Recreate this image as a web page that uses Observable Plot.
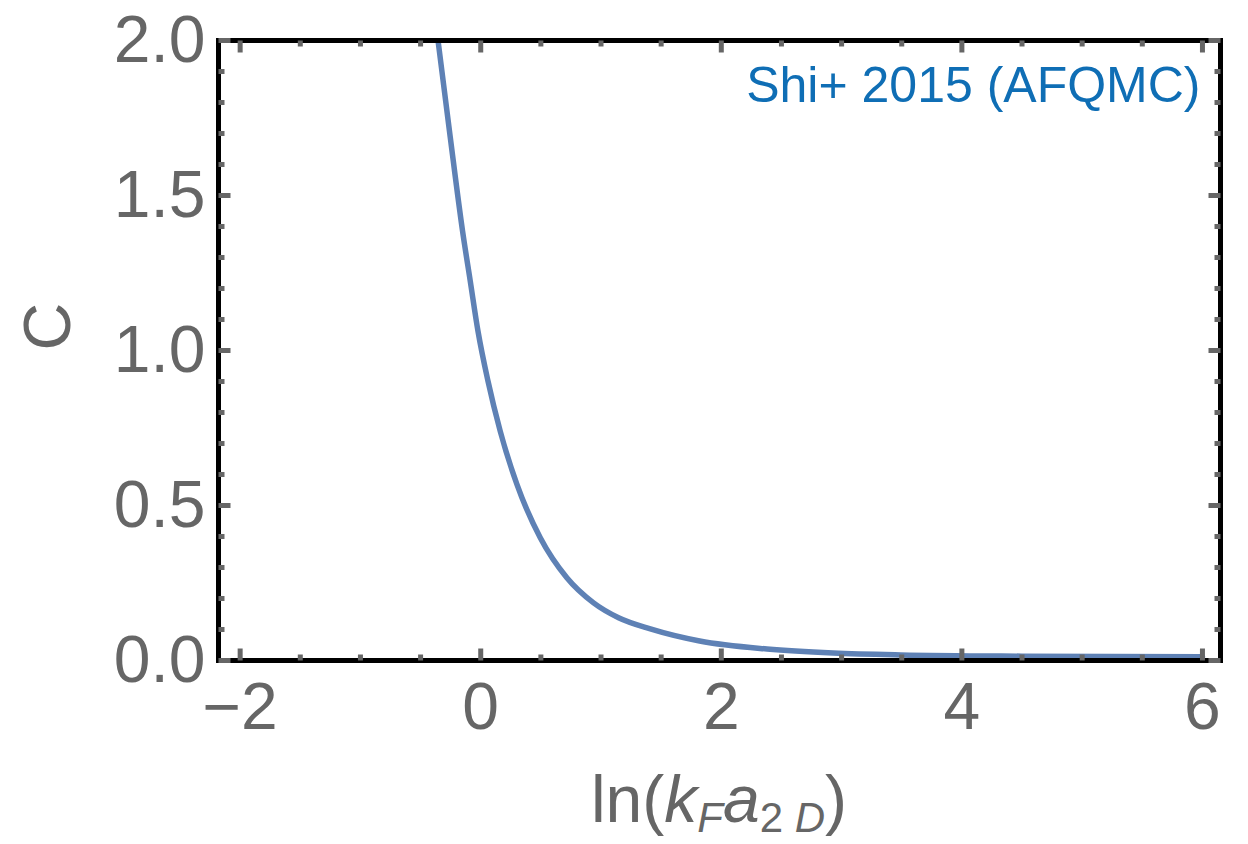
<!DOCTYPE html>
<html>
<head>
<meta charset="utf-8">
<script src="https://cdn.jsdelivr.net/npm/d3@7"></script>
<script src="https://cdn.jsdelivr.net/npm/@observablehq/plot@0.6"></script>
<style>
  html, body { margin: 0; padding: 0; background: #fff; }
</style>
</head>
<body>
<div id="chart"></div>
<script>
// ---- data ----
const lnKfa    = [-0.355, -0.254, -0.151, -0.087, -0.023, 0.060, 0.162, 0.301, 0.495, 0.716, 0.938, 1.146, 1.41, 1.82, 2.38, 2.93, 3.49, 4.5, 6.0];
const contactC = [ 2.00,   1.69,   1.385,  1.224,  1.063, 0.902, 0.740, 0.568, 0.396, 0.267, 0.186, 0.138, 0.102, 0.063, 0.037, 0.024, 0.018, 0.014, 0.012];

const xMajorTicks = [-2, 0, 2, 4, 6];
const xMinorTicks = [-1.5, -1, -0.5, 0.5, 1, 1.5, 2.5, 3, 3.5, 4.5, 5, 5.5];
const yMajorTicks = [0, 0.5, 1, 1.5, 2];
const yMinorTicks = [0.1, 0.2, 0.3, 0.4, 0.6, 0.7, 0.8, 0.9, 1.1, 1.2, 1.3, 1.4, 1.6, 1.7, 1.8, 1.9];

const annotation = "Shi+ 2015 (AFQMC)";
const yLabel = "C";

const xDomain = [-2.18, 6.15];
const yDomain = [0, 2];

const curve = lnKfa.map((x, i) => ({x, c: contactC[i]}));

// tick shape for vectors: straight stroke
const tickShape = { draw(ctx, l) { ctx.moveTo(0, 0); ctx.lineTo(0, -l); } };
const tickGray = "#666";
function tickMarks(values, axis, len) {
  const common = {length: len, shape: tickShape, anchor: "start", stroke: tickGray, strokeWidth: 5, strokeLinecap: "butt"};
  if (axis === "x") {
    return [
      Plot.vector(values, {...common, x: d => d, y: () => yDomain[0], rotate: 0}),
      Plot.vector(values, {...common, x: d => d, y: () => yDomain[1], rotate: 180})
    ];
  } else {
    return [
      Plot.vector(values, {...common, y: d => d, x: () => xDomain[0], rotate: 90}),
      Plot.vector(values, {...common, y: d => d, x: () => xDomain[1], rotate: -90})
    ];
  }
}

const mL = 218, mR = 28, mT = 40, mB = 184, W = 1248, H = 844;

const plot = Plot.plot({
  width: W,
  height: H,
  marginLeft: mL,
  marginRight: mR,
  marginTop: mT,
  marginBottom: mB,
  style: {fontFamily: "'Liberation Sans', Arial, Helvetica, sans-serif", fontSize: "66px", color: "#666", background: "white"},
  x: {domain: xDomain},
  y: {domain: yDomain},
  marks: [
    Plot.line(curve, {x: "x", y: "c", stroke: "#5E81B5", strokeWidth: 5.5, curve: "monotone-x", clip: true}),
    Plot.frame({stroke: "black", strokeWidth: 5}),
    ...tickMarks(xMinorTicks, "x", 6),
    ...tickMarks(xMajorTicks, "x", 12),
    ...tickMarks(yMinorTicks, "y", 6),
    ...tickMarks(yMajorTicks, "y", 12),
    Plot.axisX({ticks: xMajorTicks, tickSize: 0, tickPadding: 22, label: null}),
    Plot.axisY({ticks: yMajorTicks, tickSize: 0, tickPadding: 13, label: null, tickFormat: d3.format(".1f")}),
    Plot.text([annotation], {frameAnchor: "top-right", textAnchor: "end", lineAnchor: "middle", dx: -20, dy: 45, fill: "#0F6EB5", fontSize: 50}),
    Plot.text([yLabel], {frameAnchor: "left", rotate: -90, dx: -170, fill: "#666", fontSize: 66})
  ]
});

// x-axis label with italics and subscripts: ln(k_F a_{2 D})
const svg = d3.select(plot);
const lbl = svg.append("text")
  .attr("x", (mL + (W - mR)) / 2)
  .attr("y", 822)
  .attr("text-anchor", "middle")
  .attr("fill", "#666")
  .style("font-size", "66px");
lbl.append("tspan").text("ln(");
lbl.append("tspan").attr("font-style", "italic").text("k");
lbl.append("tspan").attr("font-style", "italic").attr("font-size", "42px").attr("dy", 10).text("F");
lbl.append("tspan").attr("font-style", "italic").attr("dy", -10).text("a");
lbl.append("tspan").attr("font-size", "42px").attr("dy", 10).text("2 ");
lbl.append("tspan").attr("font-style", "italic").attr("font-size", "42px").text("D");
lbl.append("tspan").attr("dy", -10).text(")");

document.getElementById("chart").append(plot);
</script>
</body>
</html>
